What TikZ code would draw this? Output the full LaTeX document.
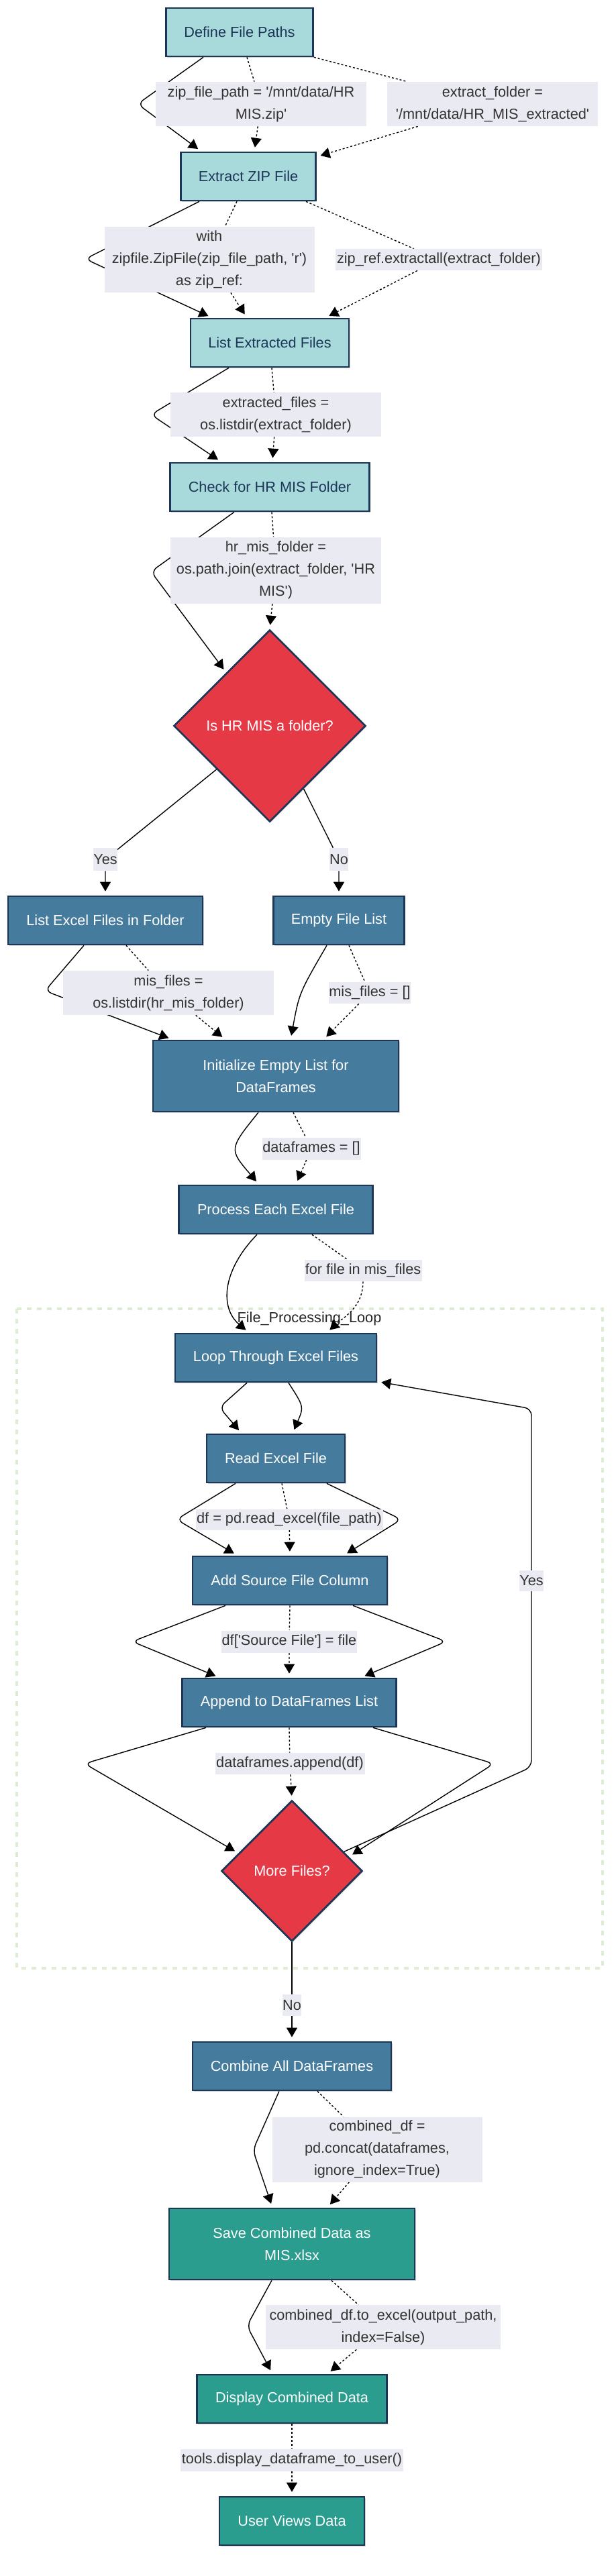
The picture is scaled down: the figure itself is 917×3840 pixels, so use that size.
\documentclass[tikz,border=0pt]{standalone}
\usepackage{fontspec}
\setmainfont{Liberation Sans}[Ligatures=TeXOff]
\usetikzlibrary{shapes.geometric,arrows.meta,calc,backgrounds,shadows}
\definecolor{navy}{HTML}{1D3557}
\definecolor{tealfill}{HTML}{A8DADC}
\definecolor{bluefill}{HTML}{457B9D}
\definecolor{redfill}{HTML}{E63946}
\definecolor{greenfill}{HTML}{2A9D8F}
\definecolor{lblbg}{HTML}{EAEAF2}
\definecolor{lbltxt}{HTML}{333333}
\definecolor{clus}{HTML}{DCEDD4}
\newcommand\nf{\fontsize{10.85pt}{16.4pt}\selectfont}
\tikzset{
  sz/.style 2 args={minimum width=#1*0.5pt, minimum height=#2*0.5pt},
  shd/.style={drop shadow={shadow xshift=0.8pt, shadow yshift=-0.8pt, opacity=0.18, fill=black}},
  basebox/.style={draw=navy, line width=1.35pt, inner sep=0pt, align=center, font=\nf, shd},
  tealbox/.style={basebox, fill=tealfill, text=navy},
  bluebox/.style={basebox, fill=bluefill, text=white},
  greenbox/.style={basebox, fill=greenfill, text=white},
  dec/.style={shape=diamond, aspect=1, draw=navy, line width=1.35pt, inner sep=0pt, fill=redfill, text=white, font=\nf, shd},
  lbl/.style={fill=lblbg, text=lbltxt, inner sep=0pt, align=center, font=\nf},
  sedge/.style={draw=black, line width=0.7pt, -{Triangle[length=7pt,width=8pt]}, shorten >=3pt, rounded corners=5pt},
  dedge/.style={sedge, dash pattern=on 1.5pt off 1.5pt},
}
\begin{document}
\begin{tikzpicture}[x=0.5pt, y=-0.5pt]
\useasboundingbox (0,0) rectangle (917,3840);
% main nodes
\node[tealbox, sz={219}{72}] (def) at (357,48) {Define File Paths};
\node[tealbox, sz={201}{72}] (ext) at (370,263) {Extract ZIP File};
\node[tealbox, sz={236}{72}] (lst) at (402,511) {List Extracted Files};
\node[tealbox, sz={297}{72}] (chk) at (402,726) {Check for HR MIS Folder};
\node[dec, sz={286}{286}] (dia1) at (402,1082) {Is HR MIS a folder?};
\node[bluebox, sz={290}{72}] (lxf) at (157,1372) {List Excel Files in Folder};
\node[bluebox, sz={195}{72}] (emp) at (505,1372) {Empty File List};
\node[bluebox, sz={366}{106}] (init) at (411,1604) {Initialize Empty List for\\DataFrames};
\node[bluebox, sz={289}{72}] (proc) at (411,1803) {Process Each Excel File};
\node[bluebox, sz={300}{72}] (loop) at (411,2024) {Loop Through Excel Files};
\node[bluebox, sz={206}{72}] (read) at (411,2174) {Read Excel File};
\node[bluebox, sz={290}{72}] (add) at (432,2356) {Add Source File Column};
\node[bluebox, sz={319}{72}] (app) at (431,2538) {Append to DataFrames List};
\node[dec, sz={210}{210}] (more) at (435,2789) {More Files?};
\node[bluebox, sz={296}{72}] (comb) at (435,3080) {Combine All DataFrames};
\node[greenbox, sz={366}{106}] (save) at (435,3345) {Save Combined Data as\\MIS.xlsx};
\node[greenbox, sz={283}{72}] (disp) at (435,3576) {Display Combined Data};
\node[greenbox, sz={216}{72}] (user) at (435,3758) {User Views Data};
% edge labels
\node[lbl, sz={314}{66}] (l1) at (389,155) {zip\_file\_path = '/mnt/data/HR\\MIS.zip'};
\node[lbl, sz={314}{66}] (l2) at (734,155) {extract\_folder =\\'/mnt/data/HR\_MIS\_extracted'};
\node[lbl, sz={313}{98}] (l3) at (312,387) {with\\zipfile.ZipFile(zip\_file\_path, 'r')\\as zip\_ref:};
\node[lbl, sz={308}{32}] (l4) at (654,387) {zip\_ref.extractall(extract\_folder)};
\node[lbl, sz={314}{66}] (l5) at (411,618) {extracted\_files =\\os.listdir(extract\_folder)};
\node[lbl, sz={314}{99}] (l6) at (411,850) {hr\_mis\_folder =\\os.path.join(extract\_folder, 'HR\\MIS')};
\node[lbl, sz={35}{34}] (yes1) at (157,1281) {Yes};
\node[lbl, sz={28}{34}] (no1) at (505,1281) {No};
\node[lbl, sz={314}{66}] (l7) at (251,1480) {mis\_files =\\os.listdir(hr\_mis\_folder)};
\node[lbl, sz={121}{32}] (l8) at (551,1480) {mis\_files = []};
\node[lbl, sz={147}{33}] (l9) at (464,1712) {dataframes = []};
\node[lbl, sz={175}{32}] (l10) at (541,1894) {for file in mis\_files};
\node[lbl, sz={279}{31}] (l11) at (431,2265) {df = pd.read\_excel(file\_path)};
\node[lbl, sz={202}{33}] (l12) at (431,2447) {df['Source File'] = file};
\node[lbl, sz={36}{31}] (yes2) at (792,2356) {Yes};
\node[lbl, sz={223}{32}] (l13) at (432,2629) {dataframes.append(df)};
\node[lbl, sz={27}{32}] (no2) at (435,2989) {No};
\node[lbl, sz={313}{97}] (l14) at (562,3204) {combined\_df =\\pd.concat(dataframes,\\ignore\_index=True)};
\node[lbl, sz={350}{66}] (l15) at (571,3469) {combined\_df.to\_excel(output\_path,\\index=False)};
\node[lbl, sz={332}{33}] (l16) at (435,3667) {tools.display\_dataframe\_to\_user()};
\begin{scope}[on background layer]
% cluster
\draw[clus, line width=1.6pt, dash pattern=on 3.5pt off 4pt] (25,1951) rectangle (898,2934);
\node[font=\nf, text=black!85, inner sep=0pt] (ttl) at (461,1966) {File\_Processing\_Loop};
% edges
\draw[sedge] ([xshift=-27pt]def.south) -- (205,155) -- ([xshift=-35pt]ext.north);
\draw[dedge] ([xshift=5.5pt]def.south) -- (l1) -- ([xshift=4.5pt]ext.north);
\draw[dedge] (def.south east) -- (l2) -- ([yshift=-4pt]ext.north east);
\draw[sedge] ([xshift=-36.5pt]ext.south) -- (127,386) -- ([xshift=-43pt]lst.north);
\draw[dedge] ([xshift=-8.5pt]ext.south) -- (l3) -- ([xshift=-17pt]lst.north);
\draw[dedge] ([xshift=43pt]ext.south) -- (l4) -- ([xshift=41.5pt]lst.north);
\draw[sedge] ([xshift=-30.5pt]lst.south) -- (225,618) -- ([xshift=-36pt]chk.north);
\draw[dedge] ([xshift=1.5pt]lst.south) -- (l5) -- ([xshift=2pt]chk.north);
\draw[sedge] ([xshift=-26.5pt]chk.south) -- (225,852) -- ($(dia1.north)!0.45!(dia1.west)$);
\draw[dedge] ([xshift=1.5pt]chk.south) -- (l6) -- (dia1.north);
\draw[sedge] ($(dia1.west)!0.45!(dia1.south)$) -- (yes1) -- (lxf);
\draw[sedge] ($(dia1.east)!0.65!(dia1.south)$) -- (no1) -- (emp);
\draw[sedge] ([xshift=-16pt]lxf.south) -- (67,1477) -- ([xshift=-77pt]init.north);
\draw[dedge] ([xshift=15.5pt]lxf.south) -- (l7) -- ([xshift=-37.5pt]init.north);
\draw[sedge] ([xshift=-9pt]emp.south) .. controls (446,1480) .. ([xshift=11pt]init.north);
\draw[dedge] ([xshift=7.5pt]emp.south) -- (l8) -- ([xshift=35.5pt]init.north);
\draw[sedge] ([xshift=-13pt]init.south) .. controls (341,1713) .. ([xshift=-12.5pt]proc.north);
\draw[dedge] ([xshift=13pt]init.south) -- (l9) -- ([xshift=15pt]proc.north);
\draw[sedge] ([xshift=-14pt]proc.south) .. controls (330,1895) and (328,1950) .. ([xshift=-20pt]loop.north);
\draw[dedge] ([xshift=27pt]proc.south) -- (l10) (l10.south) .. controls (541,1950) and (510,1965) .. ([xshift=38pt]loop.north);
\draw[sedge] ([xshift=-21.5pt]loop.south) -- (327,2098) -- ([xshift=-25.5pt]read.north);
\draw[sedge] ([xshift=9.5pt]loop.south) .. controls (453,2097) .. ([xshift=12.5pt]read.north);
\draw[sedge] ([xshift=-30pt]read.south) -- (263,2265) -- ([xshift=-39pt]add.north);
\draw[dedge] ([xshift=4.5pt]read.south) -- (l11) -- (add.north);
\draw[sedge] ([xshift=38pt]read.south) -- (598,2265) -- ([xshift=40pt]add.north);
\draw[sedge] ([xshift=-48pt]add.south) -- (197,2447) -- ([xshift=-52pt]app.north);
\draw[dedge] (add.south) -- (l12) -- (app.north);
\draw[sedge] ([xshift=47pt]add.south) -- (665,2447) -- ([xshift=53.5pt]app.north);
\draw[sedge] ([xshift=-62pt]app.south) -- (126,2629) -- ($(more.north)!0.75!(more.west)$);
\draw[dedge] (app.south) -- (l13) -- (more.north);
\draw[sedge] ([xshift=62.5pt]app.south) -- (736,2629) -- ($(more.north)!0.8!(more.east)$);
\draw[sedge] ($(more.north)!0.73!(more.east)$) -- (792,2634) -- (792,2100) -- ([yshift=1pt]loop.south east);
\draw[sedge] (more.south) -- (no2) -- (comb.north);
\draw[sedge] ([xshift=-9.5pt]comb.south) -- (377,3205) -- ([xshift=-14.5pt]save.north);
\draw[dedge] ([xshift=19pt]comb.south) -- (l14) -- ([xshift=26.5pt]save.north);
\draw[sedge] ([xshift=-15pt]save.south) -- (368,3467) -- ([xshift=-14.5pt]disp.north);
\draw[dedge] ([xshift=29.5pt]save.south) -- (l15) -- ([xshift=26.5pt]disp.north);
\draw[dedge] (disp.south) -- (l16) -- (user.north);
\end{scope}
\end{tikzpicture}
\end{document}
